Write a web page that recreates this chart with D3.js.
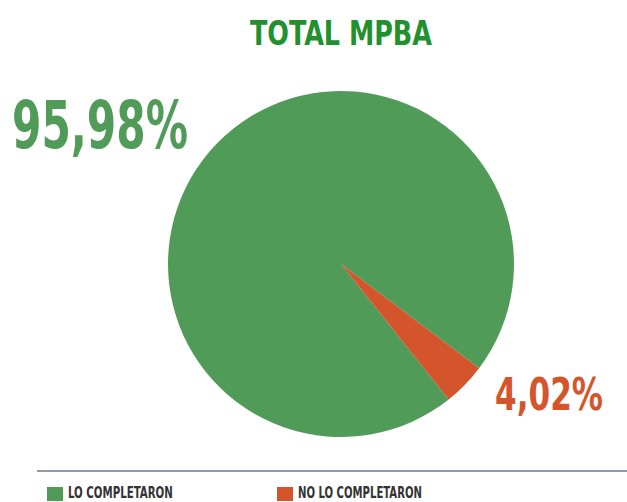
<!DOCTYPE html>
<html>
<head>
<meta charset="utf-8">
<script src="https://cdn.jsdelivr.net/npm/d3@7"></script>
<style>
  body { margin: 0; background: #fff; }
  text { font-family: "Liberation Sans Narrow", "DejaVu Sans Condensed", sans-serif; font-weight: bold; }
</style>
</head>
<body>
<svg></svg>
<script>
const categories = ['LO COMPLETARON', 'NO LO COMPLETARON'];
const values = [95.98, 4.02];
const labels = ['95,98%', '4,02%'];
const colors = ['#519b59', '#d4542b'];

const svgWidth = 627;
const svgHeight = 502;
const cx = 341, cy = 264, radius = 173;

const svg = d3.select('svg')
    .attr('width', svgWidth)
    .attr('height', svgHeight);

// squeeze a text horizontally so it spans the given width (narrow font look)
function narrowText(parent, x, y, size, width, color, str) {
    const t = parent.append('text')
        .attr('font-size', size + 'px')
        .attr('fill', color)
        .text(str);
    const w = t.node().getComputedTextLength();
    t.attr('transform', `translate(${x}, ${y}) scale(${width / w}, 1)`);
    return t;
}

narrowText(svg, 250, 45, 34, 182, '#23902e', 'TOTAL MPBA');

const pie = d3.pie()
    .sort(null)
    .startAngle(141.5 * Math.PI / 180)
    .endAngle(141.5 * Math.PI / 180 + 2 * Math.PI);

const arc = d3.arc().innerRadius(0).outerRadius(radius);

const g = svg.append('g')
    .attr('transform', `translate(${cx}, ${cy})`);

g.selectAll('path')
    .data(pie(values))
    .enter()
    .append('path')
    .attr('d', arc)
    .attr('fill', (d, i) => colors[i]);

// big percentage labels
narrowText(svg, 12, 148, 66, 176, colors[0], labels[0]);
narrowText(svg, 495, 410, 45, 108, colors[1], labels[1]);

// legend
svg.append('line')
    .attr('x1', 37).attr('x2', 627)
    .attr('y1', 471).attr('y2', 471)
    .attr('stroke', '#8c9cb0')
    .attr('stroke-width', 2);

const legendX = [47, 277];
const legendW = [105, 124];
categories.forEach((c, i) => {
    svg.append('rect')
        .attr('x', legendX[i])
        .attr('y', 487)
        .attr('width', 16)
        .attr('height', 14)
        .attr('fill', colors[i]);
    narrowText(svg, legendX[i] + 21, 498, 15, legendW[i], '#333', c);
});
</script>
</body>
</html>
